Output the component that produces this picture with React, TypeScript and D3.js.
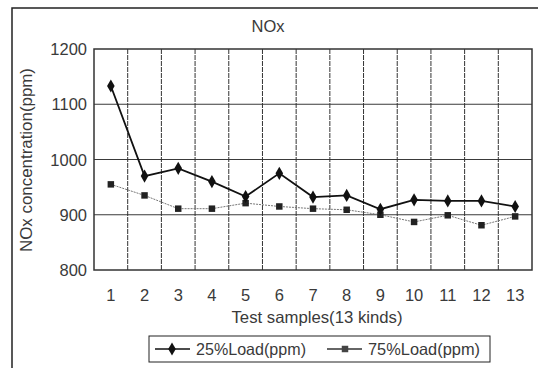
import React from "react";
import * as d3 from "d3";

const categories = ["1","2","3","4","5","6","7","8","9","10","11","12","13"];
const load25 = [1133, 970, 984, 960, 933, 975, 932, 935, 910, 927, 925, 925, 915];
const load75 = [955, 935, 911, 911, 921, 915, 911, 909, 900, 887, 899, 881, 897];
const yTicks = [800, 900, 1000, 1100, 1200];
const seriesNames = ["25%Load(ppm)", "75%Load(ppm)"];

const W = 538, H = 368;
const left = 94, right = 532, top = 49, bottom = 270;
const font = "'Liberation Sans', Arial, sans-serif";
const tc = "#3a3a3a";

export default function App() {
  const x = d3.scaleBand().domain(categories).range([left, right]);
  const y = d3.scaleLinear().domain([800, 1200]).range([bottom, top]);
  const cx = (c: string) => (x(c) as number) + x.bandwidth() / 2;
  const line = d3.line<number>().x((_, i) => cx(categories[i])).y((d) => y(d));
  const diamond = d3.symbol().type(d3.symbolDiamond).size(50)();
  const square = d3.symbol().type(d3.symbolSquare).size(42)();
  const gridX = categories.map((c) => x(c) as number).slice(1);
  return (
    <svg width={W} height={H} style={{ position: "absolute", left: 0, top: 0, background: "#fff" }}>
      <rect x={12} y={8} width={540} height={380} fill="#fff" stroke="#222" strokeWidth={1.5} />
      <text x={268} y={32} textAnchor="middle" fontFamily={font} fontSize={16.5} fill={tc}>NOx</text>
      {yTicks.slice(1, -1).map((t) => (
        <line key={t} x1={left} x2={right} y1={y(t)} y2={y(t)} stroke="#3a3a3a" strokeWidth={1.2} />
      ))}
      {gridX.map((gx, i) => (
        <line key={i} x1={gx} x2={gx} y1={top} y2={bottom} stroke="#333" strokeWidth={1} strokeDasharray="5,1" />
      ))}
      <rect x={left} y={top} width={right - left} height={bottom - top} fill="none" stroke="#333" strokeWidth={1.5} />
      {yTicks.map((t) => (
        <text key={t} x={87} y={y(t) + 6} textAnchor="end" fontFamily={font} fontSize={16.5} fill={tc}>{t}</text>
      ))}
      <text transform={`translate(32,${(top + bottom) / 2 + 0.5}) rotate(-90)`} textAnchor="middle" fontFamily={font} fontSize={16.5} fill={tc} textLength={184} lengthAdjust="spacingAndGlyphs">NOx concentration(ppm)</text>
      {categories.map((c) => (
        <text key={c} x={cx(c)} y={301} textAnchor="middle" fontFamily={font} fontSize={16.5} fill={tc}>{c}</text>
      ))}
      <text x={317} y={323} textAnchor="middle" fontFamily={font} fontSize={16.5} fill={tc} textLength={171} lengthAdjust="spacingAndGlyphs">Test samples(13 kinds)</text>
      <path d={line(load75) || ""} fill="none" stroke="#777" strokeWidth={1} strokeDasharray="2,1" />
      {load75.map((v, i) => (
        <path key={i} d={square || ""} transform={`translate(${cx(categories[i])},${y(v)})`} fill="#222" />
      ))}
      <path d={line(load25) || ""} fill="none" stroke="#111" strokeWidth={1.8} />
      {load25.map((v, i) => (
        <path key={i} d={diamond || ""} transform={`translate(${cx(categories[i])},${y(v)})`} fill="#111" />
      ))}
      <rect x={149} y={336} width={341} height={26} fill="#fff" stroke="#222" strokeWidth={1} />
      <line x1={155} x2={190} y1={349} y2={349} stroke="#111" strokeWidth={1.5} />
      <path d={diamond || ""} transform="translate(172,349)" fill="#111" />
      <text x={196} y={355} fontFamily={font} fontSize={16.5} fill={tc} textLength={110} lengthAdjust="spacingAndGlyphs">{seriesNames[0]}</text>
      <line x1={327} x2={362} y1={349} y2={349} stroke="#333" strokeWidth={1.5} />
      <path d={square || ""} transform="translate(345,349)" fill="#444" />
      <text x={368} y={355} fontFamily={font} fontSize={16.5} fill={tc} textLength={112} lengthAdjust="spacingAndGlyphs">{seriesNames[1]}</text>
    </svg>
  );
}
